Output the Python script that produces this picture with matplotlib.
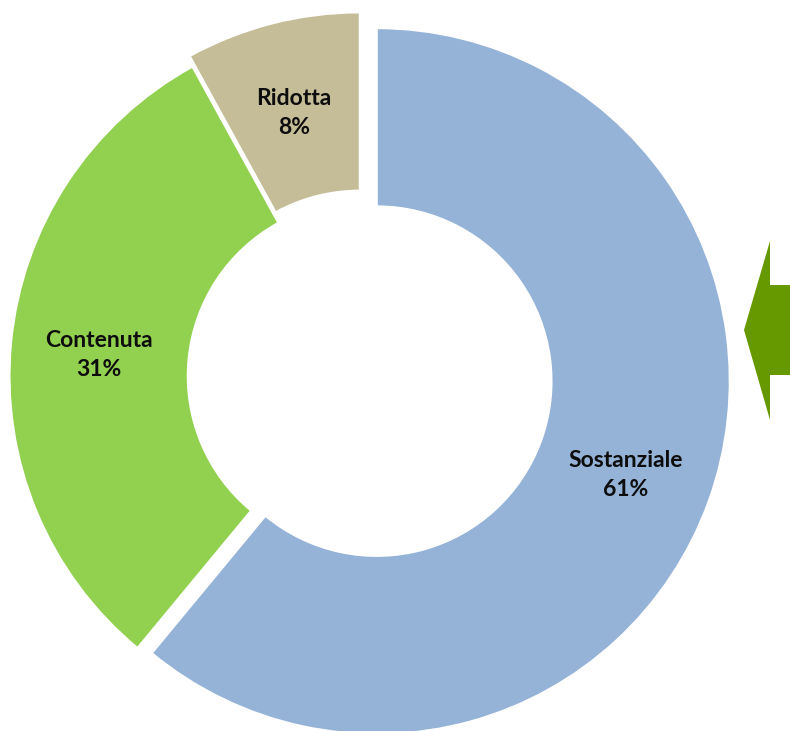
import matplotlib
matplotlib.use('Agg')
import matplotlib.pyplot as plt
import matplotlib.patches as patches
import matplotlib.transforms as mtransforms

labels = ['Sostanziale', 'Contenuta', 'Ridotta']
values = [61, 31, 8]
colors = ['#95B3D7', '#92D050', '#C4BD97']
explode = [0.043, 0.0, 0.031]

W, H = 790, 731
R = 353.0          # outer radius in pixels
cx, cy = 362.5, 376.0  # pie centre, pixels from top-left

fig = plt.figure(figsize=(W / 100, H / 100), dpi=100)
ax = fig.add_axes([0, 0, 1, 1])

wedges, texts, autotexts = ax.pie(
    values, labels=None, colors=colors, explode=explode,
    startangle=90, counterclock=False,
    autopct='%1.0f%%', pctdistance=0.75,
    wedgeprops=dict(width=0.505, edgecolor='white', linewidth=1.5),
)

# nudge labels a few pixels down like the original
shift = mtransforms.offset_copy(ax.transData, fig=fig, x=0, y=-4, units='dots')
for t, lab in zip(autotexts, labels):
    t.set_text(lab + '\n' + t.get_text())
    t.set_fontsize(16.5)
    t.set_fontweight('bold')
    t.set_family(['Lato', 'DejaVu Sans'])
    t.set_color('#0d0d0d')
    t.set_linespacing(1.5)
    t.set_ha('center')
    t.set_va('center')
    t.set_transform(shift)

ax.set_aspect('auto')
ax.set_xlim(-cx / R, (W - cx) / R)
ax.set_ylim(-(H - cy) / R, cy / R)
ax.axis('off')

# green arrow on the right edge (pixel coords, y from top)
arrow_px = [(744, 330), (770, 241), (770, 285), (790, 285),
            (790, 375), (770, 375), (770, 420)]
arrow = patches.Polygon([(x / W, 1 - y / H) for x, y in arrow_px],
                        closed=True, transform=fig.transFigure,
                        facecolor='#669900', edgecolor='none')
fig.patches.append(arrow)

fig.savefig('out.png', dpi=100, facecolor='white')
